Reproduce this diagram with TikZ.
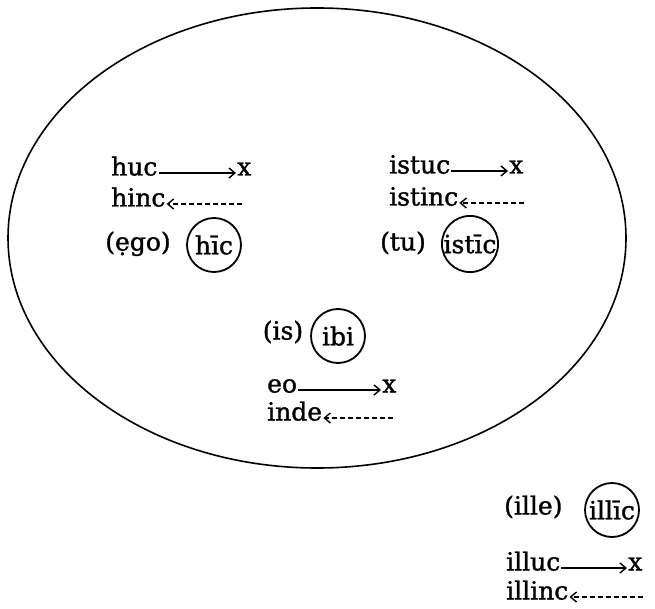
\documentclass[tikz,border=0pt]{standalone}
\usepackage{fontspec}
\setmainfont{DejaVu Serif}[UprightFeatures={FakeBold=1.3}]
\usetikzlibrary{arrows.meta}

\begin{document}
\begin{tikzpicture}[x=1pt, y=-1pt,
    word/.style={font=\fontsize{25}{29}\selectfont, inner sep=1pt, text height=0.72em, text depth=0.22em},
    place/.style={circle, draw, line width=1.8pt, minimum size=54pt, inner sep=0pt, font=\fontsize{25}{29}\selectfont},
    goes/.style={-{Straight Barb[length=6pt, width=10pt, line width=1.4pt]}, line width=1.4pt},
    comes/.style={-{Straight Barb[length=6pt, width=10pt, line width=1.4pt]}, line width=1.4pt, dash pattern=on 5pt off 3pt}
]
    \useasboundingbox (0,0) rectangle (655,609);

    % the space of speaker and hearer
    \draw[line width=1.6pt] (317,238) ellipse [x radius=309, y radius=230];

    % hic
    \node[word, anchor=west] (huc) at (110,173) {huc};
    \node[word, anchor=west] (hucx) at (236,173) {x};
    \node[word, anchor=west] (hinc) at (110,204) {hinc};
    \coordinate (hincend) at (242,204);
    \node[word] (ego) at (138,248) {(ẹgo)};
    \node[place] (hic) at (214,245) {hīc};
    \draw[goes] (huc) -- (hucx);
    \draw[comes] (hincend) -- (hinc);

    % istic
    \node[word, anchor=west] (istuc) at (388,171) {istuc};
    \node[word, anchor=west] (istucx) at (508,171) {x};
    \node[word, anchor=west] (istinc) at (388,203) {istinc};
    \coordinate (istincend) at (524,203);
    \node[word] (tu) at (403,248) {(tu)};
    \node[place] (istic) at (470,244) {istīc};
    \draw[goes] (istuc) -- (istucx);
    \draw[comes] (istincend) -- (istinc);

    % ibi
    \node[word] (is) at (283,337) {(is)};
    \node[place] (ibi) at (338,336) {ibi};
    \node[word, anchor=west] (eo) at (266,390) {eo};
    \node[word, anchor=west] (eox) at (381,390) {x};
    \node[word, anchor=west] (inde) at (266,418) {inde};
    \coordinate (indeend) at (393,418);
    \draw[goes] (eo) -- (eox);
    \draw[comes] (indeend) -- (inde);

    % illic
    \node[word, anchor=west] (ille) at (503,512) {(ille)};
    \node[place] (illic) at (612,510) {illīc};
    \node[word, anchor=west] (illuc) at (505,568) {illuc};
    \node[word, anchor=west] (illucx) at (627,568) {x};
    \node[word, anchor=west] (illinc) at (505,597) {illinc};
    \coordinate (illincend) at (643,597);
    \draw[goes] (illuc) -- (illucx);
    \draw[comes] (illincend) -- (illinc);
\end{tikzpicture}
\end{document}
